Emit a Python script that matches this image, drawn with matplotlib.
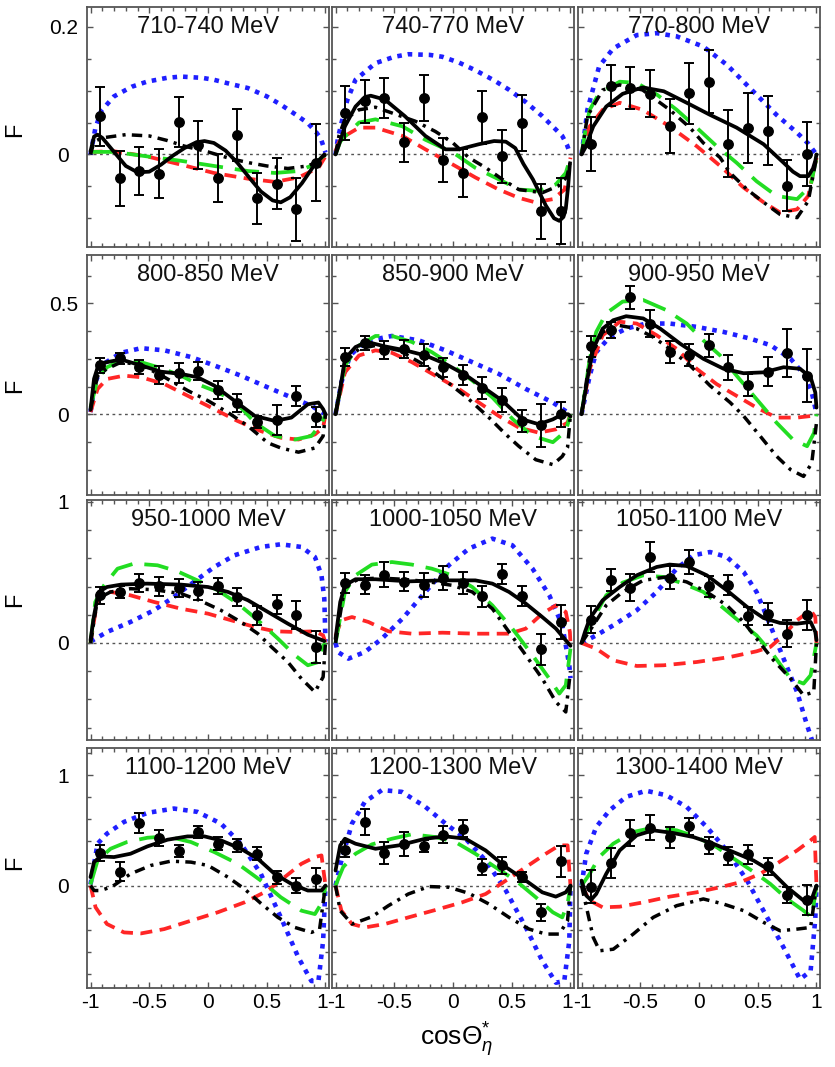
import matplotlib
matplotlib.use("Agg")
import matplotlib.pyplot as plt
from matplotlib.ticker import MultipleLocator, FixedLocator

plt.rcParams['font.family'] = ['Liberation Sans', 'DejaVu Sans']
plt.rcParams['mathtext.fontset'] = 'custom'
plt.rcParams['mathtext.rm'] = 'Liberation Sans'
plt.rcParams['mathtext.it'] = 'Liberation Sans:italic'
plt.rcParams['mathtext.bf'] = 'Liberation Sans:bold'

# bin centres in cos(theta_eta*)
COS_BINS = [-11/12, -9/12, -7/12, -5/12, -3/12, -1/12, 1/12, 3/12, 5/12, 7/12, 9/12, 11/12]

# ---------------- 710-740 MeV ----------------
F_710 = [0.060, -0.037, -0.026, -0.030, 0.051, 0.015, -0.037, 0.030, -0.069, -0.046, -0.086, -0.013]
dF_710 = [0.046, 0.043, 0.038, 0.038, 0.039, 0.038, 0.038, 0.041, 0.040, 0.040, 0.049, 0.060]
fit_710 = [(-1, 0.005), (-0.97, 0.028), (-0.94, 0.031), (-0.9, 0.026), (-0.8, 0.004), (-0.7, -0.018),
           (-0.6, -0.028), (-0.5, -0.027), (-0.4, -0.016), (-0.3, -0.002), (-0.2, 0.010), (-0.1, 0.019),
           (-0.03, 0.021), (0.05, 0.018), (0.15, 0.006), (0.25, -0.013), (0.35, -0.036), (0.45, -0.058),
           (0.55, -0.072), (0.62, -0.075), (0.7, -0.067), (0.8, -0.045), (0.9, -0.018), (0.95, -0.008), (0.99, 0.0)]
dd_710 = [(-1, 0.0), (-0.97, 0.02), (-0.9, 0.026), (-0.7, 0.031), (-0.5, 0.029), (-0.35, 0.022), (-0.2, 0.013),
          (0.0, 0.004), (0.2, -0.007), (0.35, -0.013), (0.5, -0.018), (0.68, -0.022), (0.85, -0.018),
          (0.95, -0.01), (1.0, 0.0)]
grn_710 = [(-1, 0.004), (-0.8, 0.004), (-0.52, -0.003), (-0.23, -0.01), (0.05, -0.018), (0.34, -0.026),
           (0.57, -0.029), (0.77, -0.026), (0.9, -0.016), (0.98, -0.003), (1.0, 0.0)]
red_710 = [(-1, 0.004), (-0.8, 0.005), (-0.52, -0.003), (-0.23, -0.016), (0.05, -0.029), (0.34, -0.038),
           (0.57, -0.043), (0.77, -0.036), (0.94, -0.021), (1.0, -0.003)]
blu_710 = [(-1, 0.0), (-0.96, 0.04), (-0.91, 0.068), (-0.8, 0.091), (-0.65, 0.106), (-0.52, 0.114),
           (-0.35, 0.12), (-0.23, 0.122), (-0.05, 0.12), (0.05, 0.117), (0.2, 0.11), (0.34, 0.104),
           (0.5, 0.091), (0.62, 0.078), (0.75, 0.062), (0.85, 0.049), (0.92, 0.035), (0.96, 0.025), (1.0, 0.003)]

# ---------------- 740-770 MeV ----------------
F_740 = [0.065, 0.083, 0.088, 0.019, 0.089, -0.009, -0.029, 0.058, -0.003, 0.049, -0.089, -0.089]
dF_740 = [0.042, 0.033, 0.031, 0.031, 0.036, 0.034, 0.038, 0.042, 0.041, 0.044, 0.043, 0.052]
fit_740 = [(-1, 0.0), (-0.98, 0.01), (-0.92, 0.044), (-0.83, 0.075), (-0.75, 0.09), (-0.7, 0.092),
           (-0.58, 0.086), (-0.41, 0.06), (-0.235, 0.029), (-0.064, 0.008), (0.05, 0.008), (0.22, 0.016),
           (0.35, 0.021), (0.45, 0.02), (0.53, 0.01), (0.6, -0.015), (0.68, -0.039), (0.79, -0.08),
           (0.86, -0.1), (0.905, -0.104), (0.94, -0.098), (0.96, -0.085), (0.98, -0.05), (0.995, -0.015)]
dd_740 = [(-1, 0.0), (-0.97, 0.03), (-0.92, 0.055), (-0.8, 0.07), (-0.66, 0.074), (-0.52, 0.065),
          (-0.32, 0.052), (-0.15, 0.036), (0.0, 0.018), (0.135, -0.005), (0.28, -0.021), (0.42, -0.039),
          (0.56, -0.055), (0.76, -0.06), (0.9, -0.049), (0.97, -0.035), (1.0, -0.01)]
grn_740 = [(-1, 0.0), (-0.96, 0.02), (-0.89, 0.034), (-0.8, 0.05), (-0.66, 0.055), (-0.43, 0.044),
           (-0.235, 0.023), (0.0, 0.003), (0.19, -0.021), (0.39, -0.039), (0.56, -0.055), (0.73, -0.057),
           (0.875, -0.047), (0.96, -0.029), (1.0, -0.005)]
red_740 = [(-1, 0.005), (-0.97, 0.02), (-0.92, 0.029), (-0.8, 0.042), (-0.66, 0.042), (-0.43, 0.029),
           (-0.235, 0.008), (0.0, -0.016), (0.19, -0.036), (0.39, -0.055), (0.56, -0.068), (0.7, -0.075),
           (0.85, -0.07), (0.95, -0.055), (1.0, -0.005)]
blu_740 = [(-1, 0.0), (-0.98, 0.025), (-0.95, 0.049), (-0.9, 0.085), (-0.83, 0.117), (-0.66, 0.143),
           (-0.5, 0.153), (-0.38, 0.157), (-0.2, 0.156), (-0.09, 0.153), (0.05, 0.144), (0.19, 0.132),
           (0.35, 0.116), (0.48, 0.101), (0.62, 0.082), (0.76, 0.06), (0.87, 0.04), (0.93, 0.029),
           (0.97, 0.015), (1.0, 0.0)]

# ---------------- 770-800 MeV ----------------
F_770 = [0.016, 0.108, 0.104, 0.095, 0.045, 0.096, 0.114, 0.017, 0.042, 0.037, -0.049, 0.001]
dF_770 = [0.042, 0.032, 0.033, 0.037, 0.042, 0.048, 0.049, 0.053, 0.055, 0.054, 0.040, 0.050]
fit_770 = [(-1, 0.0), (-0.97, 0.01), (-0.9, 0.044), (-0.79, 0.075), (-0.65, 0.095), (-0.48, 0.105),
           (-0.3, 0.099), (-0.105, 0.081), (0.094, 0.062), (0.32, 0.042), (0.55, 0.016), (0.72, -0.013),
           (0.8, -0.027), (0.86, -0.034), (0.93, -0.034), (0.97, -0.022), (0.99, -0.01), (1.0, 0.0)]
dd_770 = [(-1, 0.0), (-0.95, 0.06), (-0.82, 0.101), (-0.675, 0.109), (-0.48, 0.101), (-0.25, 0.07),
          (-0.077, 0.042), (0.037, 0.018), (0.18, -0.005), (0.265, -0.029), (0.41, -0.055), (0.55, -0.075),
          (0.69, -0.094), (0.835, -0.099), (0.93, -0.073), (1.0, -0.005)]
grn_770 = [(-1, 0.0), (-0.96, 0.045), (-0.93, 0.07), (-0.85, 0.096), (-0.675, 0.114), (-0.53, 0.112),
           (-0.36, 0.094), (-0.19, 0.07), (-0.02, 0.042), (0.15, 0.013), (0.32, -0.013), (0.49, -0.042),
           (0.66, -0.065), (0.835, -0.07), (0.95, -0.049), (1.0, -0.005)]
red_770 = [(-1, 0.0), (-0.96, 0.03), (-0.93, 0.044), (-0.82, 0.07), (-0.675, 0.081), (-0.48, 0.07),
           (-0.25, 0.044), (-0.02, 0.013), (0.18, -0.018), (0.38, -0.052), (0.55, -0.075), (0.69, -0.091),
           (0.835, -0.086), (0.93, -0.065), (1.0, -0.005)]
blu_770 = [(-1, 0.0), (-0.97, 0.04), (-0.95, 0.07), (-0.85, 0.138), (-0.73, 0.166), (-0.53, 0.187),
           (-0.36, 0.19), (-0.19, 0.185), (0.037, 0.169), (0.24, 0.14), (0.46, 0.099), (0.66, 0.062),
           (0.835, 0.034), (0.93, 0.017), (1.0, 0.0)]

# ---------------- 800-850 MeV ----------------
F_800 = [0.22, 0.253, 0.212, 0.177, 0.186, 0.194, 0.11, 0.05, -0.035, -0.026, 0.083, -0.011]
dF_800 = [0.034, 0.025, 0.032, 0.04, 0.046, 0.04, 0.04, 0.04, 0.025, 0.067, 0.045, 0.045]
fit_800 = [(-1, 0.02), (-0.97, 0.16), (-0.93, 0.227), (-0.86, 0.235), (-0.74, 0.247), (-0.57, 0.22),
           (-0.4, 0.192), (-0.23, 0.182), (-0.09, 0.167), (0.054, 0.129), (0.225, 0.061), (0.4, -0.008),
           (0.57, -0.03), (0.71, -0.015), (0.85, 0.045), (0.94, 0.053), (0.98, 0.023), (1.0, 0.0)]
dd_800 = [(-1, 0.02), (-0.94, 0.174), (-0.86, 0.205), (-0.74, 0.235), (-0.57, 0.223), (-0.37, 0.167),
          (-0.17, 0.106), (0.0, 0.061), (0.17, 0.008), (0.34, -0.053), (0.51, -0.129), (0.62, -0.152),
          (0.77, -0.171), (0.91, -0.152), (0.98, -0.098), (1.0, 0.0)]
grn_800 = [(-1, 0.03), (-0.94, 0.16), (-0.86, 0.212), (-0.74, 0.242), (-0.57, 0.235), (-0.4, 0.208),
           (-0.23, 0.174), (-0.09, 0.136), (0.054, 0.106), (0.225, 0.061), (0.4, -0.038), (0.57, -0.098),
           (0.74, -0.114), (0.88, -0.098), (0.97, -0.038), (1.0, 0.0)]
red_800 = [(-1, 0.01), (-0.94, 0.114), (-0.86, 0.159), (-0.715, 0.174), (-0.57, 0.167), (-0.37, 0.136),
           (-0.145, 0.076), (0.054, 0.023), (0.25, -0.03), (0.45, -0.076), (0.62, -0.106), (0.77, -0.114),
           (0.91, -0.091), (0.98, -0.06), (1.0, 0.0)]
blu_800 = [(-1, 0.01), (-0.96, 0.144), (-0.89, 0.227), (-0.74, 0.277), (-0.57, 0.298), (-0.37, 0.288),
           (-0.145, 0.258), (0.054, 0.22), (0.28, 0.174), (0.51, 0.121), (0.71, 0.076), (0.88, 0.038), (1.0, 0.0)]

# ---------------- 850-900 MeV ----------------
F_850 = [0.258, 0.321, 0.291, 0.295, 0.268, 0.212, 0.177, 0.117, 0.065, -0.03, -0.05, 0.0]
dF_850 = [0.04, 0.033, 0.04, 0.042, 0.05, 0.042, 0.044, 0.049, 0.055, 0.048, 0.098, 0.056]
fit_850 = [(-1, 0.0), (-0.96, 0.114), (-0.92, 0.25), (-0.83, 0.303), (-0.73, 0.326), (-0.58, 0.306),
           (-0.405, 0.288), (-0.235, 0.265), (-0.064, 0.227), (0.107, 0.177), (0.278, 0.114), (0.42, 0.061),
           (0.59, -0.023), (0.73, -0.045), (0.85, -0.023), (0.93, 0.0), (0.98, 0.0), (1.0, -0.01)]
dd_850 = [(-1, 0.0), (-0.92, 0.235), (-0.8, 0.295), (-0.66, 0.31), (-0.46, 0.288), (-0.26, 0.227),
          (-0.064, 0.152), (0.135, 0.068), (0.306, -0.015), (0.45, -0.091), (0.56, -0.144), (0.705, -0.205),
          (0.85, -0.227), (0.93, -0.19), (0.975, -0.15), (1.0, 0.0)]
grn_850 = [(-1, 0.0), (-0.92, 0.22), (-0.8, 0.31), (-0.66, 0.353), (-0.52, 0.353), (-0.35, 0.326),
           (-0.18, 0.28), (-0.007, 0.22), (0.164, 0.152), (0.335, 0.076), (0.51, -0.023), (0.68, -0.098),
           (0.85, -0.126), (0.96, -0.076), (1.0, 0.0)]
red_850 = [(-1, 0.0), (-0.92, 0.189), (-0.8, 0.265), (-0.66, 0.288), (-0.52, 0.277), (-0.35, 0.235),
           (-0.15, 0.174), (0.05, 0.114), (0.22, 0.053), (0.39, -0.008), (0.56, -0.06), (0.73, -0.083),
           (0.875, -0.068), (0.975, -0.038), (1.0, 0.0)]
blu_850 = [(-1, 0.0), (-0.95, 0.144), (-0.875, 0.265), (-0.75, 0.329), (-0.52, 0.353), (-0.29, 0.333),
           (-0.064, 0.288), (0.164, 0.235), (0.39, 0.182), (0.62, 0.114), (0.85, 0.053), (1.0, 0.0)]

# ---------------- 900-950 MeV ----------------
F_900 = [0.306, 0.382, 0.527, 0.409, 0.28, 0.268, 0.311, 0.212, 0.132, 0.192, 0.276, 0.174]
dF_900 = [0.048, 0.036, 0.053, 0.06, 0.05, 0.05, 0.053, 0.056, 0.05, 0.064, 0.11, 0.118]
fit_900 = [(-1, 0.0), (-0.945, 0.174), (-0.9, 0.295), (-0.82, 0.386), (-0.73, 0.424), (-0.62, 0.442),
           (-0.475, 0.432), (-0.33, 0.386), (-0.16, 0.318), (0.037, 0.25), (0.21, 0.205), (0.38, 0.185),
           (0.55, 0.189), (0.72, 0.212), (0.86, 0.205), (0.95, 0.167), (0.99, 0.098), (1.0, 0.03)]
dd_900 = [(-1, 0.0), (-0.93, 0.25), (-0.82, 0.371), (-0.675, 0.4), (-0.53, 0.386), (-0.39, 0.348),
          (-0.25, 0.295), (-0.077, 0.22), (0.094, 0.129), (0.265, 0.053), (0.38, -0.008), (0.52, -0.098),
          (0.66, -0.189), (0.78, -0.25), (0.89, -0.28), (0.96, -0.22), (1.0, -0.038)]
grn_900 = [(-1, 0.0), (-0.93, 0.25), (-0.875, 0.371), (-0.79, 0.455), (-0.65, 0.508), (-0.475, 0.515),
           (-0.28, 0.47), (-0.105, 0.409), (0.037, 0.333), (0.18, 0.265), (0.32, 0.174), (0.49, 0.068),
           (0.66, -0.038), (0.8, -0.114), (0.92, -0.144), (0.98, -0.083), (1.0, 0.0)]
red_900 = [(-1, 0.0), (-0.93, 0.205), (-0.82, 0.356), (-0.675, 0.417), (-0.53, 0.409), (-0.36, 0.356),
           (-0.19, 0.295), (-0.02, 0.205), (0.15, 0.136), (0.32, 0.083), (0.49, 0.03), (0.66, -0.015),
           (0.835, -0.015), (0.95, -0.008), (1.0, 0.0)]
blu_900 = [(-1, 0.0), (-0.93, 0.174), (-0.875, 0.28), (-0.76, 0.348), (-0.62, 0.386), (-0.45, 0.409),
           (-0.25, 0.409), (-0.02, 0.394), (0.21, 0.371), (0.436, 0.341), (0.61, 0.311), (0.78, 0.25),
           (0.89, 0.182), (0.96, 0.098), (1.0, 0.005)]

# ---------------- 950-1000 MeV ----------------
F_950 = [0.338, 0.362, 0.428, 0.402, 0.392, 0.369, 0.404, 0.326, 0.196, 0.274, 0.2, -0.028]
dF_950 = [0.06, 0.04, 0.063, 0.069, 0.065, 0.067, 0.057, 0.065, 0.069, 0.065, 0.1, 0.112]
fit_950 = [(-1, 0.02), (-0.97, 0.196), (-0.93, 0.362), (-0.86, 0.397), (-0.74, 0.414), (-0.52, 0.421),
           (-0.23, 0.414), (0.0, 0.397), (0.17, 0.362), (0.34, 0.303), (0.51, 0.22), (0.68, 0.137),
           (0.85, 0.059), (0.99, 0.014)]
dd_950 = [(-1, 0.0), (-0.94, 0.314), (-0.83, 0.362), (-0.66, 0.385), (-0.46, 0.378), (-0.23, 0.35),
          (-0.074, 0.303), (0.11, 0.232), (0.28, 0.149), (0.425, 0.066), (0.54, -0.028), (0.68, -0.135),
          (0.795, -0.253), (0.91, -0.348), (0.98, -0.241), (1.0, 0.0)]
grn_950 = [(-1, 0.0), (-0.96, 0.29), (-0.885, 0.409), (-0.77, 0.527), (-0.63, 0.563), (-0.43, 0.551),
           (-0.26, 0.508), (-0.09, 0.444), (0.083, 0.374), (0.254, 0.279), (0.425, 0.161), (0.595, 0.031),
           (0.74, -0.087), (0.85, -0.158), (0.94, -0.135), (0.98, -0.017), (1.0, 0.0)]
red_950 = [(-1, 0.0), (-0.94, 0.314), (-0.83, 0.362), (-0.66, 0.338), (-0.46, 0.291), (-0.23, 0.243),
           (0.0, 0.208), (0.197, 0.161), (0.4, 0.113), (0.57, 0.083), (0.74, 0.078), (0.91, 0.083),
           (0.98, 0.054), (1.0, 0.0)]
blu_950 = [(-1, 0.01), (-0.86, 0.078), (-0.66, 0.149), (-0.46, 0.232), (-0.29, 0.326), (-0.12, 0.433),
           (0.054, 0.539), (0.225, 0.622), (0.45, 0.681), (0.62, 0.7), (0.795, 0.681), (0.91, 0.61),
           (0.966, 0.48), (0.99, 0.314), (1.0, 0.01)]

# ---------------- 1000-1050 MeV ----------------
F_1000 = [0.426, 0.414, 0.485, 0.433, 0.409, 0.461, 0.426, 0.331, 0.492, 0.331, -0.045, 0.149]
dF_1000 = [0.071, 0.066, 0.086, 0.067, 0.086, 0.086, 0.08, 0.073, 0.071, 0.071, 0.109, 0.123]
fit_1000 = [(-1, 0.03), (-0.96, 0.29), (-0.92, 0.409), (-0.83, 0.452), (-0.66, 0.452), (-0.38, 0.437),
            (-0.09, 0.444), (0.19, 0.444), (0.335, 0.421), (0.477, 0.362), (0.62, 0.279), (0.76, 0.184),
            (0.876, 0.102), (0.96, 0.019), (1.0, -0.02)]
dd_1000 = [(-1, 0.0), (-0.92, 0.409), (-0.8, 0.452), (-0.63, 0.461), (-0.43, 0.452), (-0.235, 0.437),
           (-0.007, 0.409), (0.164, 0.362), (0.335, 0.243), (0.477, 0.078), (0.62, -0.087), (0.76, -0.253),
           (0.876, -0.418), (0.96, -0.489), (1.0, -0.2)]
grn_1000 = [(-1, 0.0), (-0.92, 0.362), (-0.83, 0.48), (-0.69, 0.556), (-0.52, 0.574), (-0.35, 0.556),
            (-0.18, 0.527), (-0.007, 0.48), (0.164, 0.397), (0.335, 0.267), (0.505, 0.102), (0.677, -0.087),
            (0.82, -0.253), (0.905, -0.359), (0.96, -0.3), (1.0, -0.04)]
red_1000 = [(-1, 0.05), (-0.95, 0.161), (-0.86, 0.184), (-0.72, 0.149), (-0.55, 0.083), (-0.35, 0.066),
            (-0.09, 0.073), (0.19, 0.066), (0.477, 0.066), (0.62, 0.102), (0.76, 0.208), (0.876, 0.267),
            (0.96, 0.22), (0.995, 0.078), (1.0, 0.0)]
blu_1000 = [(-1, 0.0), (-0.98, -0.064), (-0.89, -0.111), (-0.75, -0.064), (-0.605, 0.031), (-0.43, 0.173),
            (-0.235, 0.362), (-0.036, 0.551), (0.135, 0.669), (0.335, 0.74), (0.505, 0.693), (0.677, 0.527),
            (0.82, 0.338), (0.93, 0.125), (0.99, -0.158), (1.0, -0.25)]

# ---------------- 1050-1100 MeV ----------------
F_1050 = [0.165, 0.449, 0.392, 0.61, 0.463, 0.574, 0.402, 0.409, 0.191, 0.208, 0.066, 0.2]
dF_1050 = [0.095, 0.077, 0.097, 0.109, 0.083, 0.083, 0.074, 0.071, 0.065, 0.079, 0.095, 0.105]
fit_1050 = [(-1, 0.0), (-0.97, 0.08), (-0.93, 0.173), (-0.82, 0.303), (-0.675, 0.397), (-0.53, 0.48),
            (-0.36, 0.539), (-0.25, 0.556), (-0.105, 0.546), (0.066, 0.48), (0.236, 0.374), (0.41, 0.255),
            (0.55, 0.177), (0.69, 0.142), (0.835, 0.137), (0.95, 0.149), (0.99, 0.078), (1.0, 0.02)]
dd_1050 = [(-1, 0.0), (-0.9, 0.125), (-0.79, 0.267), (-0.65, 0.362), (-0.475, 0.444), (-0.28, 0.468),
           (-0.105, 0.433), (0.066, 0.362), (0.236, 0.267), (0.38, 0.149), (0.49, 0.031), (0.635, -0.123),
           (0.78, -0.253), (0.89, -0.371), (0.977, -0.348), (1.0, 0.0)]
grn_1050 = [(-1, 0.0), (-0.9, 0.173), (-0.79, 0.338), (-0.65, 0.428), (-0.475, 0.48), (-0.3, 0.468),
            (-0.134, 0.421), (0.037, 0.362), (0.18, 0.267), (0.35, 0.149), (0.49, 0.054), (0.635, -0.087),
            (0.78, -0.253), (0.89, -0.288), (0.95, -0.229), (1.0, 0.0)]
red_1050 = [(-1, 0.0), (-0.875, -0.04), (-0.73, -0.123), (-0.53, -0.163), (-0.3, -0.158), (-0.02, -0.135),
            (0.265, -0.099), (0.49, -0.059), (0.607, -0.028), (0.72, 0.054), (0.835, 0.161), (0.95, 0.232),
            (0.99, 0.184), (1.0, 0.0)]
blu_1050 = [(-1, 0.0), (-0.875, 0.054), (-0.73, 0.125), (-0.53, 0.232), (-0.36, 0.362), (-0.19, 0.527),
            (-0.048, 0.622), (0.094, 0.645), (0.236, 0.61), (0.38, 0.504), (0.49, 0.362), (0.607, 0.125),
            (0.72, -0.111), (0.835, -0.348), (0.92, -0.584), (0.977, -0.726), (1.0, -0.8)]

# ---------------- 1100-1200 MeV ----------------
F_1100 = [0.294, 0.127, 0.567, 0.433, 0.312, 0.485, 0.379, 0.364, 0.288, 0.076, 0.0, 0.061]
dF_1100 = [0.071, 0.082, 0.091, 0.071, 0.056, 0.052, 0.061, 0.061, 0.058, 0.058, 0.071, 0.098]
fit_1100 = [(-1, 0.076), (-0.97, 0.212), (-0.915, 0.264), (-0.8, 0.258), (-0.66, 0.288), (-0.515, 0.355),
            (-0.345, 0.415), (-0.174, 0.445), (-0.03, 0.445), (0.11, 0.409), (0.28, 0.333), (0.425, 0.242),
            (0.567, 0.106), (0.71, 0.015), (0.85, -0.045), (0.966, -0.045), (1.0, 0.0)]
dd_1100 = [(-1, 0.0), (-0.97, -0.045), (-0.915, -0.045), (-0.815, -0.009), (-0.66, 0.106), (-0.487, 0.182),
           (-0.316, 0.221), (-0.145, 0.212), (0.0, 0.182), (0.17, 0.076), (0.31, -0.03), (0.45, -0.161),
           (0.595, -0.288), (0.74, -0.379), (0.88, -0.424), (0.95, -0.394), (1.0, 0.0)]
grn_1100 = [(-1, 0.01), (-0.94, 0.227), (-0.83, 0.333), (-0.69, 0.394), (-0.515, 0.433), (-0.345, 0.445),
            (-0.145, 0.394), (0.054, 0.303), (0.254, 0.197), (0.45, 0.045), (0.62, -0.106), (0.795, -0.227),
            (0.91, -0.258), (0.98, -0.136), (1.0, 0.0)]
red_1100 = [(-1, 0.0), (-0.957, -0.197), (-0.86, -0.348), (-0.715, -0.424), (-0.57, -0.433), (-0.373, -0.394),
            (-0.145, -0.318), (0.083, -0.242), (0.31, -0.152), (0.51, -0.045), (0.652, 0.076), (0.795, 0.197),
            (0.91, 0.258), (0.966, 0.273), (1.0, 0.0)]
blu_1100 = [(-1, 0.01), (-0.94, 0.379), (-0.86, 0.47), (-0.715, 0.576), (-0.515, 0.658), (-0.29, 0.697),
            (-0.09, 0.667), (0.11, 0.561), (0.28, 0.379), (0.45, 0.106), (0.62, -0.288), (0.77, -0.652),
            (0.88, -0.864), (0.94, -0.864), (0.98, -0.5), (1.0, 0.0)]

# ---------------- 1200-1300 MeV ----------------
F_1200 = [0.324, 0.576, 0.294, 0.379, 0.355, 0.46, 0.515, 0.167, 0.182, 0.076, -0.242, 0.218]
dF_1200 = [0.068, 0.118, 0.1, 0.11, 0.053, 0.076, 0.076, 0.073, 0.073, 0.045, 0.076, 0.139]
fit_1200 = [(-1, 0.136), (-0.96, 0.364), (-0.92, 0.424), (-0.83, 0.379), (-0.66, 0.333), (-0.46, 0.364),
            (-0.235, 0.424), (-0.064, 0.445), (0.107, 0.424), (0.278, 0.318), (0.45, 0.167), (0.62, 0.045),
            (0.76, -0.061), (0.875, -0.1), (0.96, -0.061), (1.0, 0.0)]
dd_1200 = [(-1, 0.0), (-0.96, -0.227), (-0.86, -0.348), (-0.69, -0.282), (-0.55, -0.182), (-0.38, -0.076),
           (-0.206, -0.009), (-0.036, -0.015), (0.135, -0.07), (0.306, -0.167), (0.477, -0.288),
           (0.648, -0.394), (0.79, -0.439), (0.905, -0.439), (0.975, -0.318), (1.0, 0.0)]
grn_1200 = [(-1, 0.0), (-0.935, 0.167), (-0.83, 0.288), (-0.69, 0.373), (-0.52, 0.424), (-0.35, 0.464),
            (-0.15, 0.439), (0.02, 0.394), (0.19, 0.288), (0.36, 0.167), (0.535, 0.045), (0.705, -0.106),
            (0.85, -0.242), (0.93, -0.288), (0.975, -0.167), (1.0, 0.0)]
red_1200 = [(-1, 0.0), (-0.95, -0.227), (-0.86, -0.348), (-0.75, -0.379), (-0.58, -0.348), (-0.38, -0.288),
            (-0.15, -0.221), (0.077, -0.152), (0.278, -0.076), (0.45, 0.045), (0.62, 0.167), (0.79, 0.288),
            (0.905, 0.364), (0.975, 0.364), (1.0, 0.0)]
blu_1200 = [(-1, 0.0), (-0.95, 0.227), (-0.86, 0.561), (-0.75, 0.758), (-0.605, 0.864), (-0.435, 0.848),
            (-0.235, 0.712), (-0.064, 0.561), (0.107, 0.424), (0.278, 0.227), (0.45, -0.045), (0.62, -0.379),
            (0.76, -0.682), (0.876, -0.879), (0.947, -0.864), (0.99, -0.5), (1.0, 0.0)]

# ---------------- 1300-1400 MeV ----------------
F_1300 = [-0.009, 0.206, 0.479, 0.524, 0.439, 0.536, 0.364, 0.267, 0.282, 0.173, -0.085, -0.13]
dF_1300 = [0.15, 0.133, 0.117, 0.114, 0.095, 0.076, 0.08, 0.08, 0.083, 0.076, 0.076, 0.136]
fit_1300 = [(-1, 0.045), (-0.96, -0.09), (-0.92, -0.13), (-0.875, -0.076), (-0.79, 0.106), (-0.675, 0.318),
            (-0.53, 0.455), (-0.39, 0.5), (-0.22, 0.476), (-0.048, 0.439), (0.12, 0.379), (0.293, 0.303),
            (0.464, 0.227), (0.607, 0.136), (0.75, -0.015), (0.89, -0.136), (0.96, -0.121), (1.0, 0.0)]
dd_1300 = [(-1, 0.0), (-0.945, -0.258), (-0.9, -0.47), (-0.846, -0.59), (-0.73, -0.576), (-0.56, -0.439),
           (-0.39, -0.288), (-0.19, -0.182), (0.037, -0.121), (0.208, -0.167), (0.38, -0.227), (0.55, -0.333),
           (0.69, -0.409), (0.835, -0.394), (0.95, -0.379), (1.0, 0.0)]
grn_1300 = [(-1, 0.0), (-0.93, 0.106), (-0.85, 0.258), (-0.73, 0.379), (-0.56, 0.485), (-0.39, 0.524),
            (-0.19, 0.5), (-0.02, 0.439), (0.15, 0.348), (0.32, 0.227), (0.49, 0.106), (0.607, 0.015),
            (0.75, -0.121), (0.89, -0.227), (0.96, -0.288), (1.0, 0.0)]
red_1300 = [(-1, 0.0), (-0.93, -0.136), (-0.82, -0.197), (-0.675, -0.191), (-0.475, -0.152), (-0.25, -0.1),
            (-0.02, -0.061), (0.18, -0.015), (0.35, 0.03), (0.52, 0.106), (0.66, 0.197), (0.835, 0.318),
            (0.95, 0.409), (0.985, 0.44), (1.0, 0.0)]
blu_1300 = [(-1, 0.0), (-0.96, 0.288), (-0.875, 0.53), (-0.76, 0.682), (-0.62, 0.803), (-0.45, 0.858),
            (-0.28, 0.818), (-0.105, 0.712), (0.066, 0.53), (0.236, 0.318), (0.41, 0.045), (0.58, -0.288),
            (0.72, -0.56), (0.86, -0.848), (0.95, -0.773), (0.99, -0.3), (1.0, 0.0)]

PANELS = [
    ("710-740 MeV", F_710, dF_710, fit_710, dd_710, grn_710, red_710, blu_710),
    ("740-770 MeV", F_740, dF_740, fit_740, dd_740, grn_740, red_740, blu_740),
    ("770-800 MeV", F_770, dF_770, fit_770, dd_770, grn_770, red_770, blu_770),
    ("800-850 MeV", F_800, dF_800, fit_800, dd_800, grn_800, red_800, blu_800),
    ("850-900 MeV", F_850, dF_850, fit_850, dd_850, grn_850, red_850, blu_850),
    ("900-950 MeV", F_900, dF_900, fit_900, dd_900, grn_900, red_900, blu_900),
    ("950-1000 MeV", F_950, dF_950, fit_950, dd_950, grn_950, red_950, blu_950),
    ("1000-1050 MeV", F_1000, dF_1000, fit_1000, dd_1000, grn_1000, red_1000, blu_1000),
    ("1050-1100 MeV", F_1050, dF_1050, fit_1050, dd_1050, grn_1050, red_1050, blu_1050),
    ("1100-1200 MeV", F_1100, dF_1100, fit_1100, dd_1100, grn_1100, red_1100, blu_1100),
    ("1200-1300 MeV", F_1200, dF_1200, fit_1200, dd_1200, grn_1200, red_1200, blu_1200),
    ("1300-1400 MeV", F_1300, dF_1300, fit_1300, dd_1300, grn_1300, red_1300, blu_1300),
]

# per-row vertical scales
ROW_YLIM = [(-0.145, 0.231), (-0.364, 0.718), (-0.688, 1.014), (-0.927, 1.245)]
ROW_YTICKS = [[0, 0.2], [0, 0.5], [0, 1], [0, 1]]
ROW_YTICKLABELS = [["0", "0.2"], ["0", "0.5"], ["0", "1"], ["0", "1"]]
ROW_YMINOR = [0.05, 0.125, 0.2, 0.2]
ROW_FLABEL_Y = [0.49, 0.455, 0.583, 0.523]
X_TICKS = [-1, -0.5, 0, 0.5, 1]
X_TICKLABELS = ["-1", "-0.5", "0", "0.5", "1"]

W, H = 835, 1067
fig = plt.figure(figsize=(W / 100, H / 100), dpi=100)

col_left = [87, 332, 578]
col_width = 242
row_top = [7, 255, 500, 748]
row_height = 240

BLUE = '#1f1fff'
RED = '#ff2626'
GREEN = '#22dd22'
SPINE = '#555555'
TICK_FS = 15


def unzip(pairs):
    return [p[0] for p in pairs], [p[1] for p in pairs]


for idx, (label, F, dF, fit, dd, grn, red, blu) in enumerate(PANELS):
    r, c = divmod(idx, 3)
    ax = fig.add_axes([col_left[c] / W, 1 - (row_top[r] + row_height) / H,
                       col_width / W, row_height / H])
    ax.set_xlim(-1.03, 1.03)
    ax.set_ylim(*ROW_YLIM[r])

    ax.axhline(0, color='#555555', lw=1.0, ls=(0, (2, 2.5)), zorder=1)

    x, y = unzip(blu)
    ax.plot(x, y, color=BLUE, lw=3.3, ls=(0, (1, 1.3)), dash_capstyle='butt', zorder=2)
    x, y = unzip(red)
    ax.plot(x, y, color=RED, lw=2.7, ls=(0, (3.2, 2.0)), dash_capstyle='butt', zorder=3)
    x, y = unzip(grn)
    ax.plot(x, y, color=GREEN, lw=2.7, ls=(0, (6.5, 3.2)), dash_capstyle='butt', zorder=4)
    x, y = unzip(dd)
    ax.plot(x, y, color='black', lw=2.5, ls=(0, (3.0, 1.8, 0.9, 1.8)), dash_capstyle='butt', zorder=5)
    x, y = unzip(fit)
    ax.plot(x, y, color='black', lw=2.7, solid_capstyle='round', zorder=6)

    ax.errorbar(COS_BINS, F, yerr=dF, fmt='o', color='black', ms=6.8, elinewidth=1.4,
                capsize=3.8, capthick=1.4, zorder=7)

    ax.text(0.5, 0.915, label, transform=ax.transAxes, ha='center', va='center',
            fontsize=17, color='#111111')

    ax.xaxis.set_major_locator(FixedLocator(X_TICKS))
    ax.xaxis.set_minor_locator(MultipleLocator(0.1))
    ax.yaxis.set_major_locator(FixedLocator(ROW_YTICKS[r]))
    ax.yaxis.set_minor_locator(MultipleLocator(ROW_YMINOR[r]))
    ax.tick_params(which='both', direction='in', top=True, right=True, color=SPINE, width=1.0)
    ax.tick_params(which='major', length=4.5)
    ax.tick_params(which='minor', length=3)
    ax.set_xticklabels([])

    if r == 3:
        # bottom-row tick labels; neighbouring "1" and "-1" are set flush so they read "1-1"
        for xv, txt in zip(X_TICKS, X_TICKLABELS):
            ha, dx = 'center', 0.0
            if xv == 1 and c < 2:
                ha, dx = 'right', 0.018
            elif xv == -1 and c > 0:
                ha, dx = 'left', -0.07
            ax.text(xv + dx, -0.022, txt, transform=ax.get_xaxis_transform(), ha=ha, va='top',
                    fontsize=TICK_FS, clip_on=False)

    if c == 0:
        ax.set_yticklabels(ROW_YTICKLABELS[r], fontsize=TICK_FS)
        for t in ax.get_yticklabels():
            t.set_ha('center')
        ax.tick_params(axis='y', pad=17)
        ax.set_ylabel('F', fontsize=17, rotation=90)
        ax.yaxis.set_label_coords(-0.25, ROW_FLABEL_Y[r])
    else:
        ax.set_yticklabels([])

    for s in ax.spines.values():
        s.set_color(SPINE)
        s.set_linewidth(1.3)

fig.text(457 / W, 1 - 1040 / H, r'cos$\Theta^{*}_{\eta}$', ha='center', va='center', fontsize=19)

fig.savefig('out.png', dpi=100)
